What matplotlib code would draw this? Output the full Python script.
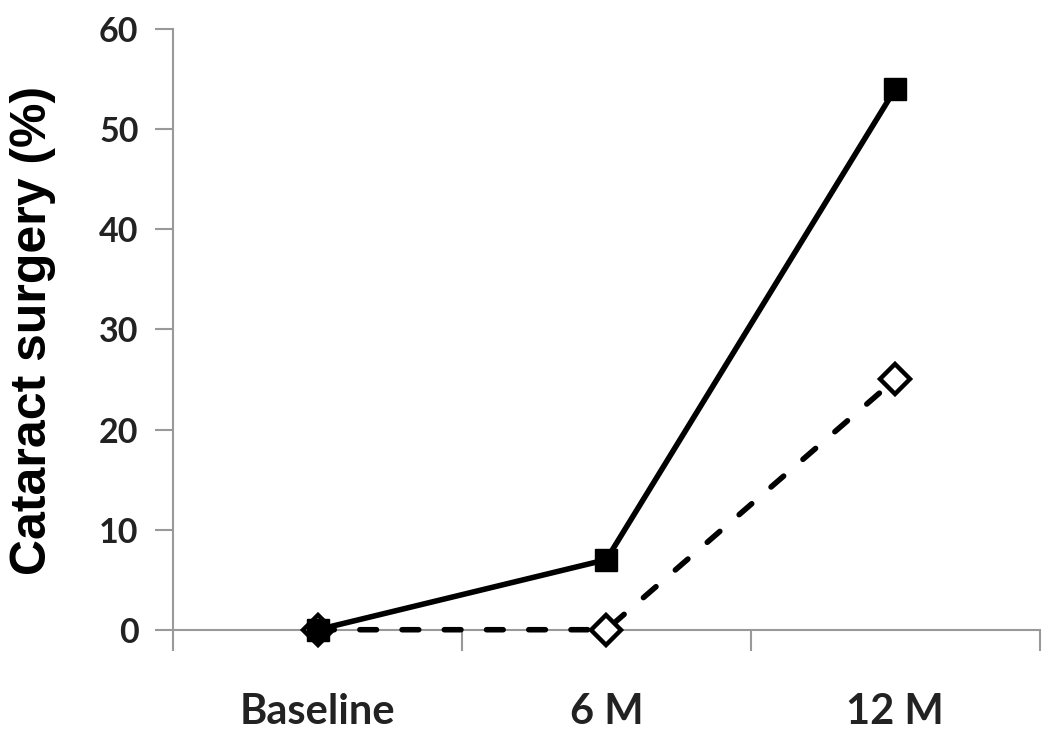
import matplotlib
matplotlib.use("Agg")
import matplotlib.pyplot as plt

categories = ["Baseline", "6 M", "12 M"]
series_a = [0, 7, 54]    # solid, filled squares
series_b = [0, 0, 25]    # dashed, open diamonds
y_ticks = [0, 10, 20, 30, 40, 50, 60]
y_label = "Cataract surgery (%)"

fig = plt.figure(figsize=(10.5, 7.47), dpi=100)
ax = fig.add_axes([0.165, 0.157, 0.825, 0.804])

x = [i + 0.5 for i in range(len(categories))]
ax.plot(x, series_b, linestyle=(0, (3.0, 4.6)), color="black", linewidth=4,
        dash_capstyle="round", solid_capstyle="round",
        marker="D", markersize=15, markerfacecolor="white",
        markeredgecolor="black", markeredgewidth=3.2, zorder=3,
        clip_on=False)
ax.plot(x, series_a, linestyle="-", color="black", linewidth=4,
        marker="s", markersize=16.5, markerfacecolor="black",
        markeredgecolor="black", zorder=4, clip_on=False)

ax.set_xlim(0, len(categories))
ax.set_ylim(0, 60)
ax.set_yticks(y_ticks)
ax.set_yticklabels([str(v) for v in y_ticks], fontfamily="Lato",
                   fontweight="bold", fontsize=24.5, color="#222222")
ax.set_xticks(range(len(categories) + 1))
ax.set_xticklabels([""] * (len(categories) + 1))
for xi, lab in zip(x, categories):
    ax.text(xi, -8.2, lab, ha="center", va="center", fontfamily="Lato",
            fontweight="bold", fontsize=30, color="#222222",
            transform=ax.transData)

for side in ("top", "right"):
    ax.spines[side].set_visible(False)
for side in ("left", "bottom"):
    ax.spines[side].set_color("#999999")
    ax.spines[side].set_linewidth(1.5)
    ax.spines[side].set_zorder(1)
ax.tick_params(axis="y", direction="out", length=13, width=1.5,
               color="#999999", pad=12)
ax.tick_params(axis="x", direction="out", length=15, width=1.5,
               color="#999999")

fig.text(0.031, 0.557, y_label, rotation=90, ha="center", va="center",
         fontfamily="Liberation Sans", fontweight="bold", fontsize=36)

fig.savefig("out.png", dpi=100)
